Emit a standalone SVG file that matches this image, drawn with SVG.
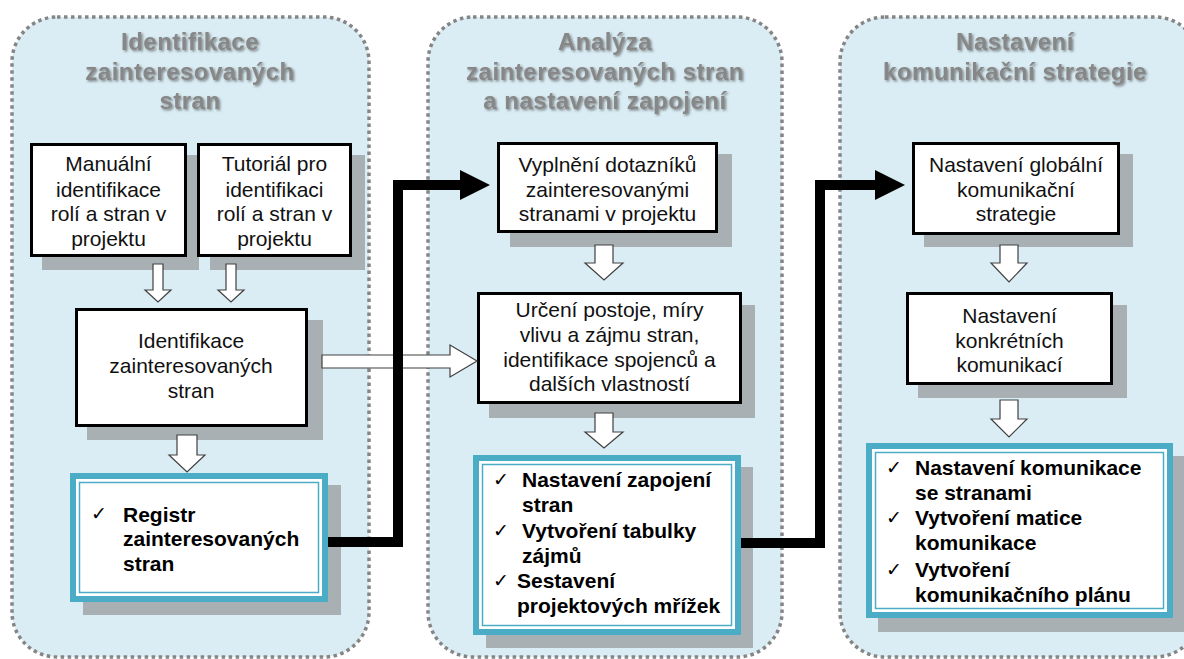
<svg xmlns="http://www.w3.org/2000/svg" width="1184" height="659" viewBox="0 0 1184 659">
<defs>
<filter id="tsh" x="-10%" y="-20%" width="120%" height="150%">
<feDropShadow dx="1.5" dy="1.5" stdDeviation="1" flood-color="#333" flood-opacity="0.55"/>
</filter>
<style>
.panel{fill:#DAEDF4;stroke:#858585;stroke-width:3.5;stroke-dasharray:3.5 3.5}
.title{font-family:"Liberation Sans",Arial,sans-serif;font-weight:bold;font-size:24px;letter-spacing:0.5px;fill:#878787;text-anchor:middle;filter:url(#tsh)}
.shadow{fill:#787373;fill-opacity:0.5}
.box{fill:#fff;stroke:#000;stroke-width:3}
.outer{fill:#fff;stroke:#4BACC6;stroke-width:6}
.inner{fill:none;stroke:#4BACC6;stroke-width:1.5}
.t{font-family:"Liberation Sans",Arial,sans-serif;font-size:21px;fill:#111;text-anchor:middle}
.b{font-family:"Liberation Sans",Arial,sans-serif;font-size:21px;font-weight:bold;fill:#000}
.ck{font-family:"DejaVu Sans",sans-serif;font-size:19px;fill:#000}
.hollow{fill:#fff;stroke:#404040;stroke-width:1.2}
.thick{fill:none;stroke:#000;stroke-width:10}
</style>
</defs>
<rect width="1184" height="659" fill="#fff"/>

<g id="panel1">
<rect class="panel" x="12" y="17" width="357" height="640" rx="45"/>
<text class="title" x="190" y="50">Identifikace</text>
<text class="title" x="190" y="79.5">zainteresovaných</text>
<text class="title" x="190" y="109">stran</text>
</g>
<g id="panel2">
<rect class="panel" x="428" y="17" width="354" height="640" rx="45"/>
<text class="title" x="605" y="50">Analýza</text>
<text class="title" x="605" y="79.5">zainteresovaných stran</text>
<text class="title" x="605" y="109">a nastavení zapojení</text>
</g>
<g id="panel3">
<rect class="panel" x="840" y="17" width="360" height="640" rx="45"/>
<text class="title" x="1015" y="50">Nastavení</text>
<text class="title" x="1015" y="79.5">komunikační strategie</text>
</g>

<g id="manual">
<rect class="shadow" x="42" y="155" width="157" height="115"/>
<rect class="box" x="31.5" y="144.5" width="154" height="111"/>
<text class="t" x="108.5" y="171">Manuální</text>
<text class="t" x="108.5" y="197">identifikace</text>
<text class="t" x="108.5" y="221">rolí a stran v</text>
<text class="t" x="108.5" y="246">projektu</text>
</g>
<g id="tutorial">
<rect class="shadow" x="210" y="155" width="155" height="115"/>
<rect class="box" x="198.5" y="144.5" width="152" height="111"/>
<text class="t" x="274.5" y="171">Tutoriál pro</text>
<text class="t" x="274.5" y="197">identifikaci</text>
<text class="t" x="274.5" y="221">rolí a stran v</text>
<text class="t" x="274.5" y="246">projektu</text>
</g>
<g id="identifikace">
<rect class="shadow" x="87" y="320" width="236" height="120"/>
<rect class="box" x="76.5" y="309.5" width="230" height="116"/>
<text class="t" x="191" y="348">Identifikace</text>
<text class="t" x="191" y="373">zainteresovaných</text>
<text class="t" x="191" y="398">stran</text>
</g>
<g id="registr">
<rect class="shadow" x="83" y="485" width="258" height="130"/>
<rect class="outer" x="73" y="476" width="252" height="123"/>
<rect class="inner" x="79.5" y="482.5" width="239" height="110"/>
<text class="ck" x="91" y="520">✓</text>
<text class="b" x="123" y="522">Registr</text>
<text class="b" x="123" y="546">zainteresovaných</text>
<text class="b" x="123" y="571">stran</text>
</g>

<g id="vyplneni">
<rect class="shadow" x="510" y="154" width="222" height="93"/>
<rect class="box" x="498.5" y="143.5" width="218" height="88"/>
<text class="t" x="607.5" y="172">Vyplnění dotazníků</text>
<text class="t" x="607.5" y="197">zainteresovanými</text>
<text class="t" x="607.5" y="221">stranami v projektu</text>
</g>
<g id="urceni">
<rect class="shadow" x="489" y="305" width="266" height="113"/>
<rect class="box" x="478.5" y="293.5" width="262" height="109"/>
<text class="t" x="609.5" y="317">Určení postoje, míry</text>
<text class="t" x="609.5" y="342">vlivu a zájmu stran,</text>
<text class="t" x="609.5" y="367">identifikace spojenců a</text>
<text class="t" x="609.5" y="391">dalších vlastností</text>
</g>
<g id="zapojeni">
<rect class="shadow" x="486" y="467" width="267" height="181"/>
<rect class="outer" x="476" y="458" width="262" height="174"/>
<rect class="inner" x="482.5" y="464.5" width="249" height="161"/>
<text class="ck" x="493" y="486">✓</text>
<text class="b" x="522" y="487">Nastavení zapojení</text>
<text class="b" x="522" y="512">stran</text>
<text class="ck" x="493" y="537">✓</text>
<text class="b" x="522" y="538">Vytvoření tabulky</text>
<text class="b" x="522" y="563">zájmů</text>
<text class="ck" x="493" y="587">✓</text>
<text class="b" x="517" y="588">Sestavení</text>
<text class="b" x="517" y="613">projektových mřížek</text>
</g>

<g id="globalni">
<rect class="shadow" x="924" y="154" width="209" height="93"/>
<rect class="box" x="913.5" y="143.5" width="205" height="90"/>
<text class="t" x="1016" y="172">Nastavení globální</text>
<text class="t" x="1016" y="197">komunikační</text>
<text class="t" x="1016" y="221">strategie</text>
</g>
<g id="konkretni">
<rect class="shadow" x="918" y="305" width="209" height="93"/>
<rect class="box" x="907.5" y="293.5" width="204" height="90"/>
<text class="t" x="1009.5" y="323">Nastavení</text>
<text class="t" x="1009.5" y="348">konkrétních</text>
<text class="t" x="1009.5" y="372">komunikací</text>
</g>
<g id="komunikace">
<rect class="shadow" x="878" y="456" width="308" height="176"/>
<rect class="outer" x="869" y="446" width="301" height="169"/>
<rect class="inner" x="875.5" y="452.5" width="288" height="156"/>
<text class="ck" x="886" y="474">✓</text>
<text class="b" x="915" y="475">Nastavení komunikace</text>
<text class="b" x="915" y="500">se stranami</text>
<text class="ck" x="886" y="524">✓</text>
<text class="b" x="915" y="525">Vytvoření matice</text>
<text class="b" x="915" y="550">komunikace</text>
<text class="ck" x="886" y="576">✓</text>
<text class="b" x="915" y="577">Vytvoření</text>
<text class="b" x="915" y="602">komunikačního plánu</text>
</g>

<g id="connectors">
<path class="hollow" d="M153 264 H163 V290 H171 L158 302 L145 290 H153 Z"/>
<path class="hollow" d="M226 264 H236 V290 H244 L231 302 L218 290 H226 Z"/>
<path class="hollow" d="M177 435 H197 V455 H205 L187 472 L169 455 H177 Z"/>
<path class="hollow" d="M595 245 H613 V263 H623 L604 280 L585 263 H595 Z"/>
<path class="hollow" d="M595 413 H613 V432 H623 L604 448 L585 432 H595 Z"/>
<path class="hollow" d="M1000 245 H1018 V263 H1027 L1009 282 L991 263 H1000 Z"/>
<path class="hollow" d="M1000 400 H1018 V419 H1027 L1009 437 L991 419 H1000 Z"/>
<path class="hollow" d="M322 355 H450 V345 L477 361 L450 377 V368 H322 Z"/>
<path class="thick" d="M328 542 H398 V185 H462"/>
<polygon points="460,170 490,185 460,200" fill="#000"/>
<path class="thick" d="M741 543 H820 V185 H877"/>
<polygon points="875,170 905,185 875,200" fill="#000"/>
</g>
</svg>
